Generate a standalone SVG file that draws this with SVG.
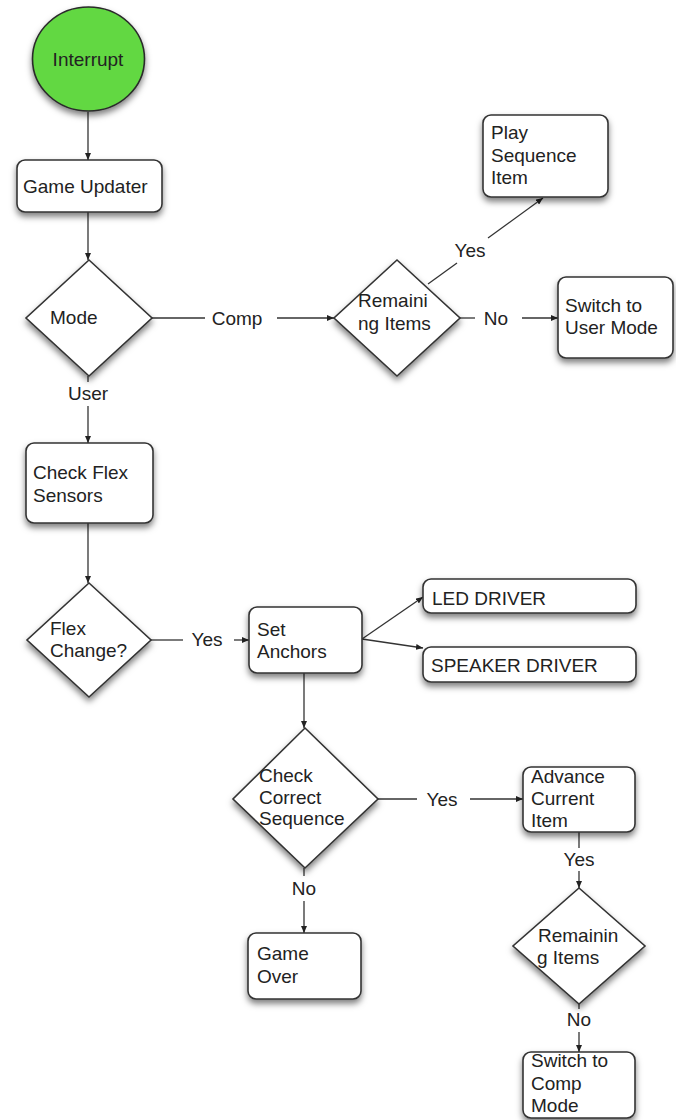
<svg xmlns="http://www.w3.org/2000/svg" width="676" height="1120" viewBox="0 0 676 1120">
<style>
  .box { fill: #ffffff; stroke: #333333; stroke-width: 1.6; filter: url(#sh); }
  .t { font-family: "Liberation Sans", Arial, Helvetica, sans-serif; font-size: 19px; fill: #222222; }
  .c { text-anchor: middle; }
  .ln { stroke: #333333; stroke-width: 1.3; fill: none; }
  .ar { marker-end: url(#ah); }
</style>
<defs>
  <filter id="sh" x="-20%" y="-20%" width="140%" height="160%">
    <feDropShadow dx="0" dy="4" stdDeviation="3" flood-color="#000000" flood-opacity="0.5"/>
  </filter>
  <marker id="ah" markerWidth="7" markerHeight="6" refX="7" refY="3" orient="auto" markerUnits="userSpaceOnUse">
    <path d="M0,0 L7,3 L0,6 z" fill="#222222"/>
  </marker>
</defs>
<rect width="676" height="1120" fill="#ffffff"/>

<g id="connectors">
  <line class="ln ar" x1="88" y1="112" x2="88" y2="160"/>
  <line class="ln ar" x1="88" y1="212" x2="88" y2="260"/>
  <line class="ln" x1="152" y1="318" x2="205" y2="318"/>
  <line class="ln ar" x1="277" y1="318" x2="334" y2="318"/>
  <text class="t c" x="237" y="325">Comp</text>
  <line class="ln" x1="428" y1="284" x2="457" y2="263"/>
  <line class="ln ar" x1="488" y1="238" x2="543" y2="198"/>
  <text class="t c" x="470" y="257">Yes</text>
  <line class="ln" x1="460" y1="318" x2="475" y2="318"/>
  <line class="ln ar" x1="522" y1="318" x2="558" y2="318"/>
  <text class="t c" x="496" y="325">No</text>
  <line class="ln" x1="88" y1="376" x2="88" y2="382"/>
  <text class="t c" x="88" y="400">User</text>
  <line class="ln ar" x1="88" y1="406" x2="88" y2="443"/>
  <line class="ln ar" x1="88" y1="523" x2="88" y2="583"/>
  <line class="ln" x1="151" y1="640" x2="183" y2="640"/>
  <text class="t c" x="207" y="646">Yes</text>
  <line class="ln ar" x1="234" y1="640" x2="249" y2="640"/>
  <line class="ln ar" x1="362" y1="639" x2="423" y2="597"/>
  <line class="ln ar" x1="362" y1="639" x2="423" y2="648"/>
  <line class="ln ar" x1="304" y1="673" x2="304" y2="728"/>
  <line class="ln" x1="378" y1="799" x2="417" y2="799"/>
  <text class="t c" x="442" y="806">Yes</text>
  <line class="ln ar" x1="470" y1="799" x2="523" y2="799"/>
  <line class="ln" x1="304" y1="868" x2="304" y2="876"/>
  <text class="t c" x="304" y="895">No</text>
  <line class="ln ar" x1="304" y1="901" x2="304" y2="933"/>
  <line class="ln" x1="579" y1="832" x2="579" y2="848"/>
  <text class="t c" x="579" y="866">Yes</text>
  <line class="ln ar" x1="579" y1="871" x2="579" y2="888"/>
  <line class="ln" x1="579" y1="1004" x2="579" y2="1009"/>
  <text class="t c" x="579" y="1026">No</text>
  <line class="ln ar" x1="579" y1="1032" x2="579" y2="1052"/>
</g>

<g id="interrupt">
  <ellipse cx="88.5" cy="59" rx="56" ry="52" fill="#62d843" stroke="#2a2a2a" stroke-width="1.6" filter="url(#sh)"/>
  <text class="t c" x="88" y="66">Interrupt</text>
</g>

<g id="game-updater">
  <rect class="box" x="17" y="160" width="145" height="52" rx="8"/>
  <text class="t" x="23" y="193">Game Updater</text>
</g>

<g id="mode">
  <polygon class="box" points="89,260 152,318 89,376 26,318"/>
  <text class="t" x="50" y="324">Mode</text>
</g>

<g id="remaining-items-1">
  <polygon class="box" points="397,260 460,318 397,376 334,318"/>
  <text class="t" x="358" y="307">Remaini</text>
  <text class="t" x="358" y="330">ng Items</text>
</g>

<g id="play-sequence-item">
  <rect class="box" x="483" y="115" width="125" height="82" rx="8"/>
  <text class="t" x="491" y="139">Play</text>
  <text class="t" x="491" y="162">Sequence</text>
  <text class="t" x="491" y="184">Item</text>
</g>

<g id="switch-user-mode">
  <rect class="box" x="558" y="277" width="115" height="81" rx="8"/>
  <text class="t" x="565" y="312">Switch to</text>
  <text class="t" x="565" y="334">User Mode</text>
</g>

<g id="check-flex-sensors">
  <rect class="box" x="26" y="443" width="127" height="80" rx="8"/>
  <text class="t" x="33" y="479">Check Flex</text>
  <text class="t" x="33" y="502">Sensors</text>
</g>

<g id="flex-change">
  <polygon class="box" points="89,583 151,640 89,697 27,640"/>
  <text class="t" x="50" y="635">Flex</text>
  <text class="t" x="50" y="657">Change?</text>
</g>

<g id="set-anchors">
  <rect class="box" x="249" y="607" width="113" height="66" rx="8"/>
  <text class="t" x="257" y="636">Set</text>
  <text class="t" x="257" y="658">Anchors</text>
</g>

<g id="led-driver">
  <rect class="box" x="423" y="579" width="213" height="34" rx="8"/>
  <text class="t" x="432" y="605">LED DRIVER</text>
</g>

<g id="speaker-driver">
  <rect class="box" x="423" y="647" width="213" height="35" rx="8"/>
  <text class="t" x="431" y="672">SPEAKER DRIVER</text>
</g>

<g id="check-correct-sequence">
  <polygon class="box" points="305,728 378,799 305,868 233,799"/>
  <text class="t" x="259" y="782">Check</text>
  <text class="t" x="259" y="804">Correct</text>
  <text class="t" x="259" y="825">Sequence</text>
</g>

<g id="advance-current-item">
  <rect class="box" x="523" y="767" width="112" height="65" rx="8"/>
  <text class="t" x="531" y="783">Advance</text>
  <text class="t" x="531" y="805">Current</text>
  <text class="t" x="531" y="827">Item</text>
</g>

<g id="game-over">
  <rect class="box" x="248" y="933" width="113" height="66" rx="8"/>
  <text class="t" x="257" y="960">Game</text>
  <text class="t" x="257" y="983">Over</text>
</g>

<g id="remaining-items-2">
  <polygon class="box" points="579,888 645,946 579,1004 513,946"/>
  <text class="t" x="538" y="942">Remainin</text>
  <text class="t" x="537" y="964">g Items</text>
</g>

<g id="switch-comp-mode">
  <rect class="box" x="523" y="1052" width="112" height="66" rx="8"/>
  <text class="t" x="531" y="1067">Switch to</text>
  <text class="t" x="531" y="1090">Comp</text>
  <text class="t" x="531" y="1112">Mode</text>
</g>
</svg>
